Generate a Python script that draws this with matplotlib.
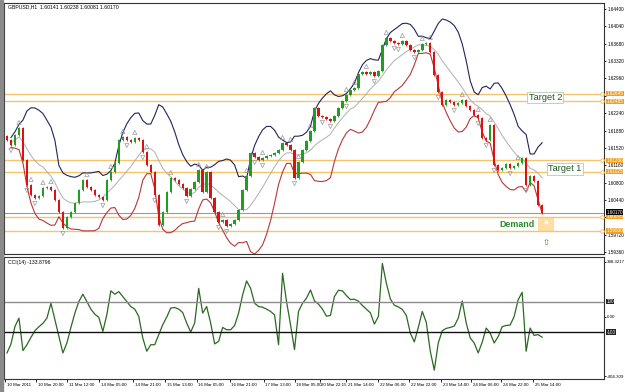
import numpy as np
import pandas as pd
import matplotlib.pyplot as plt
from matplotlib.patches import Rectangle

# closes of each (2 hour) candle
closes = [
    1.61683, 1.61579, 1.61787, 1.61932, 1.61269, 1.60750, 1.60543, 1.60480, 1.60522, 1.60688,
    1.60708, 1.60646, 1.60439, 1.60190, 1.59859, 1.60087, 1.60190, 1.60377, 1.60646, 1.60854,
    1.60708, 1.60646, 1.60543, 1.60501, 1.60439, 1.60854, 1.61020, 1.61206, 1.61683, 1.61745,
    1.61683, 1.61642, 1.61725, 1.61683, 1.61434, 1.61165, 1.61020, 1.60543, 1.59921, 1.60190,
    1.60605, 1.60895, 1.60854, 1.60771, 1.60688, 1.60522, 1.60667, 1.60812, 1.61061, 1.60605,
    1.61020, 1.60480, 1.60190, 1.59983, 1.60024, 1.59900, 1.59942, 1.60024, 1.60232, 1.60646,
    1.60937, 1.61414, 1.61331, 1.61269, 1.61310, 1.61352, 1.61372, 1.61414, 1.61476, 1.61621,
    1.61579, 1.61476, 1.60895, 1.61227, 1.61476, 1.61662, 1.61870, 1.62347, 1.62181, 1.62160,
    1.62119, 1.62077, 1.62181, 1.62347, 1.62492, 1.62616, 1.62720, 1.62762, 1.63052, 1.63094,
    1.63052, 1.63094, 1.63010, 1.63114, 1.63653, 1.63799, 1.63736, 1.63695, 1.63674, 1.63736,
    1.63653, 1.63550, 1.63508, 1.63550, 1.63674, 1.63695, 1.63508, 1.63031, 1.62679, 1.62409,
    1.62513, 1.62471, 1.62409, 1.62451, 1.62513, 1.62388, 1.62305, 1.62202, 1.62140, 1.61725,
    1.61683, 1.61994, 1.61165, 1.61061, 1.61103, 1.61186, 1.61103, 1.61144, 1.61206, 1.61310,
    1.60750, 1.60937, 1.60833, 1.60335, 1.60170,
]
first_open = 1.61760

cci = [
    -237, -178, -63, -9, -222, -183, -135, -91, -65, -43,
    -9, 89, -20, -128, -237, -172, -70, 24, 100, 148,
    100, 50, 17, -4, -96, 13, 170, 148, 165, 133,
    100, 67, 50, 2, -139, -226, -183, -183, -117, -52,
    -2, 57, 61, 50, 28, -41, -100, -41, 187, 24,
    67, -41, -178, -161, -70, -85, -85, -57, 24, 143,
    235, 187, 89, 67, 63, 50, 35, 13, -183, 285,
    100, -52, -215, 35, 89, 122, 176, 104, 83, 50,
    4, 9, 133, 174, 170, 139, 113, 115, 102, 74,
    50, 26, -48, 2, 350, 220, 117, 76, 65, 48,
    9, -107, -165, -70, 35, -37, -226, -350, -172, -91,
    -76, -70, -61, -9, 104, -41, -139, -172, -237, -167,
    -74, -107, -172, -130, -65, -57, -54, 2, 111, 161,
    -226, -74, -122, -117, -134,
]

frac_up = [3, 6, 9, 11, 20, 26, 29, 32, 35, 41, 48, 50, 54, 60, 64, 69, 71, 73, 76,
           85, 87, 90, 95, 99, 104, 106, 114, 118, 121, 128]
frac_dn = [1, 5, 7, 14, 24, 30, 34, 37, 45, 53, 55, 62, 64, 72, 79, 81, 85, 92, 97,
           98, 102, 108, 112, 118, 120, 122, 126, 130]

levels = [1.62645, 1.62485, 1.61260, 1.61025, 1.60095, 1.59800]
price_ticks = np.round(np.arange(1.5936, 1.6441, 0.0036), 4)
hidden_ticks = [1.6260, 1.6008]  # covered by the level boxes

time_pos = [-0.5, 7.25, 15, 23, 31.5, 39.5, 47.5, 55.75, 64.25, 72, 78.3, 85,
            93, 100.75, 108.75, 116.25, 123.75, 131.75]
time_labels = ["10 Mar 2011", "10 Mar 20:00", "11 Mar 12:00", "14 Mar 05:00",
               "14 Mar 21:00", "15 Mar 13:00", "16 Mar 05:00", "16 Mar 21:00",
               "17 Mar 13:00", "18 Mar 05:00", "20 Mar 22:15", "21 Mar 14:00",
               "22 Mar 06:00", "22 Mar 22:00", "23 Mar 14:00", "24 Mar 06:00",
               "24 Mar 22:00", "25 Mar 14:00"]

close = np.array(closes)
opens = np.concatenate([[first_open], close[:-1]])
n = len(close)
x = np.arange(n)
wick = 0.00025
highs = np.maximum(opens, close) + wick
lows = np.minimum(opens, close) - wick

s = pd.Series(close)
mid = s.rolling(10, min_periods=2).mean()
sd = s.rolling(10, min_periods=2).std(ddof=0)
upper = mid + 2 * sd
lower = mid - 2 * sd

plt.rcParams["font.family"] = ["Liberation Sans Narrow", "Liberation Sans", "DejaVu Sans"]
small = 3.3

fig = plt.figure(figsize=(6.25, 3.92), dpi=100)
fig.patch.set_facecolor("white")
# window frame on the left
fig.patches.append(Rectangle((0, 0), 3 / 625, 1, transform=fig.transFigure,
                             color="#8a8a8a", zorder=0))

ax = fig.add_axes([4 / 625, 138 / 392, 600 / 625, 251 / 392])
ax2 = fig.add_axes([4 / 625, 13 / 392, 600 / 625, 122 / 392])

xmax = 149.5
ax.set_xlim(-0.75, xmax)
ax.set_ylim(1.59319, 1.64524)

# horizontal levels
orange = "#f4c46c"
for lv in levels:
    ax.axhline(lv, color=orange, lw=1.0, zorder=1)
    ax.plot(xmax - 0.6, lv, "o", ms=2.5, mfc="white", mec=orange, mew=0.7, zorder=3, clip_on=False)
ax.axhline(close[-1], color="#9a9a9a", lw=0.8, zorder=1)

# bollinger bands
ax.plot(x, upper, color="#23235f", lw=0.8, zorder=2)
ax.plot(x, lower, color="#b83838", lw=0.8, zorder=2)
ax.plot(x, mid, color="#b0b0b0", lw=0.7, zorder=2)

# candles
up = close >= opens
cols = np.where(up, "#1f9e1f", "#e01010")
ax.vlines(x, lows, highs, colors=cols, lw=0.6, zorder=4)
body = np.maximum(np.abs(close - opens), 0.00008)
ax.bar(x, body, bottom=np.minimum(opens, close), width=0.6, color=cols, lw=0, zorder=5)

# fractals
ax.scatter(frac_up, highs[frac_up] + 0.0009, marker="^", s=9, facecolors="none",
           edgecolors="#9a9a9a", linewidths=0.5, zorder=6)
ax.scatter(frac_dn, lows[frac_dn] - 0.0009, marker="v", s=9, facecolors="none",
           edgecolors="#9a9a9a", linewidths=0.5, zorder=6)

# demand zone and notes
ax.add_patch(Rectangle((133, 1.59776), 4, 0.00311, color="#fbc96b", alpha=0.6, lw=0, zorder=6))
ax.plot(135, 1.5999, "s", ms=1.5, color="white", zorder=7)
ax.text(123.2, 1.59921, "Demand", color="#2b8a2b", fontsize=6.4, fontweight="bold",
        va="center", ha="left", zorder=8, family=["Liberation Sans", "DejaVu Sans"])
ax.text(135, 1.5955, "⇧", color="#2b8a2b", fontsize=6, ha="center", va="center", zorder=8,
        family=["DejaVu Sans"])
box = dict(boxstyle="square,pad=0.15", fc="white", ec="#b8c8b8", lw=0.6)
ax.text(130.6, 1.62565, "Target 2", color="#1d5a1d", fontsize=6.6, va="center", ha="left",
        bbox=box, zorder=8, family=["Liberation Sans", "DejaVu Sans"])
ax.text(135.6, 1.61085, "Target 1", color="#1d5a1d", fontsize=6.6, va="center", ha="left",
        bbox=box, zorder=8, family=["Liberation Sans", "DejaVu Sans"])

ax.text(0.3, 1.64440, "GBPUSD,H1  1.60141 1.60238 1.60081 1.60170", fontsize=small + 0.4,
        va="center", ha="left")

# price axis
ax.yaxis.tick_right()
ax.set_yticks(price_ticks)
ax.set_yticklabels(["" if p in hidden_ticks else f"{p:.5f}" for p in price_ticks])
ax.tick_params(axis="y", labelsize=small, length=1.5, width=0.6, pad=1)
ax.set_xticks([])
for lv in levels:
    ax.text(1.004, lv, f"{lv:.5f}", transform=ax.get_yaxis_transform(), fontsize=small,
            color="white", va="center", ha="left",
            bbox=dict(boxstyle="square,pad=0.05", fc="#f0a020", ec="none"), zorder=9,
            clip_on=False)
ax.text(1.004, close[-1] + 0.00018, f"{close[-1]:.5f}", transform=ax.get_yaxis_transform(),
        fontsize=small, color="white", va="center", ha="left",
        bbox=dict(boxstyle="square,pad=0.05", fc="black", ec="none"), zorder=10, clip_on=False)

# CCI panel
ax2.set_xlim(-0.75, xmax)
ax2.set_ylim(-408, 392)
ax2.plot(x, cci, color="#2a6a20", lw=0.9)
ax2.axhline(100, color="#8c8c8c", lw=1.0)
ax2.axhline(-100, color="#111111", lw=1.0)
ax2.yaxis.tick_right()
ax2.set_yticks([360, 0, -390])
ax2.set_yticklabels(["388.3217", "0.00", "-404.309"])
ax2.tick_params(axis="y", labelsize=small - 0.1, length=1.5, width=0.6, pad=0.6)
for lv, lab in [(100, "100"), (-100, "-100")]:
    ax2.text(1.004, lv, lab, transform=ax2.get_yaxis_transform(), fontsize=small,
             color="white", va="center", ha="left",
             bbox=dict(boxstyle="square,pad=0.08", fc="#222222", ec="none"), clip_on=False)
ax2.text(0.3, 355, "CCI(14) -133.8796", fontsize=small + 0.4, va="center", ha="left")

ax2.set_xticks(time_pos)
ax2.set_xticklabels([])
ax2.tick_params(axis="x", length=2.5, width=0.6)
for p, lab in zip(time_pos, time_labels):
    ax2.text(p + 0.45, -0.03, lab, transform=ax2.get_xaxis_transform(), fontsize=small - 0.1,
             va="top", ha="left")

for a in (ax, ax2):
    for sp in a.spines.values():
        sp.set_linewidth(0.8)
        sp.set_color("#333333")

fig.savefig("out.png", dpi=100)
